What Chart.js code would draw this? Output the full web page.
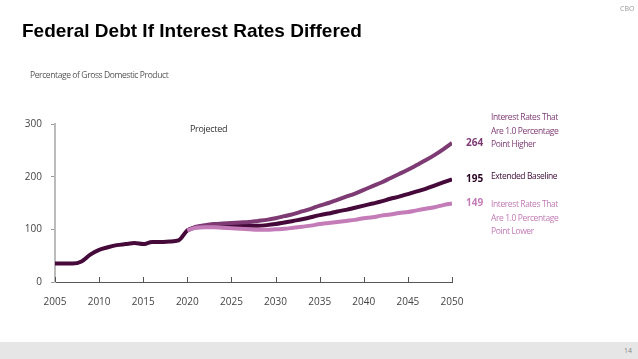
<!DOCTYPE html>
<html><head><meta charset="utf-8">
<script src="https://cdn.jsdelivr.net/npm/chart.js@4"></script>
<style>
html,body{margin:0;padding:0;background:#fff;}
#wrap{position:relative;width:638px;height:359px;overflow:hidden;font-family:"Open Sans","DejaVu Sans",sans-serif;}
canvas{position:absolute;left:0;top:0;}
.t{position:absolute;white-space:nowrap;}
#title{left:22px;top:20px;font-family:"Liberation Sans",Arial,sans-serif;font-weight:bold;font-size:19px;color:#000;}
#cbo{left:620px;top:4px;font-size:7px;color:#999;}
#sub{left:30px;top:69px;font-size:8.5px;color:#555;letter-spacing:-0.4px;}
#foot{position:absolute;left:0;top:342px;width:638px;height:17px;background:#e6e6e6;}
#pg{left:624px;top:346px;font-size:7px;color:#888;}
.lg{position:absolute;left:491px;font-size:8.5px;line-height:13.5px;letter-spacing:-0.4px;}
#proj{left:190px;top:122px;font-size:9px;color:#333;letter-spacing:-0.3px;}
</style></head>
<body><div id="wrap">
<canvas id="c" width="638" height="359"></canvas>
<div class="t" id="title">Federal Debt If Interest Rates Differed</div>
<div class="t" id="cbo">CBO</div>
<div class="t" id="sub">Percentage of Gross Domestic Product</div>
<div class="t" id="proj">Projected</div>
<div class="lg" style="top:110px;color:#7d3a73">Interest Rates That<br>Are 1.0 Percentage<br>Point Higher</div>
<div class="lg" style="top:169px;color:#3d0a33">Extended Baseline</div>
<div class="lg" style="top:197px;color:#c07ab4">Interest Rates That<br>Are 1.0 Percentage<br>Point Lower</div>
<div id="foot"></div>
<div class="t" id="pg">14</div>
</div>
<script>
const years = [];
for (let y = 2005; y <= 2050; y++) years.push(y);
const baseline = [35,35,35,39,52,61,66,70,72,74,72,76,76,77,79,98,104,106,107,107,107,107,107,107,108,110,113,116,119,123,127,130,134,137,141,145,149,153,158,162,167,172,177,183,189,195];
const higherYears = [2020,2021,2022,2023,2024,2025,2026,2027,2028,2029,2030,2031,2032,2033,2034,2035,2036,2037,2038,2039,2040,2041,2042,2043,2044,2045,2046,2047,2048,2049,2050];
const higher = [98,105,108,110,111,112,113,114,116,118,121,125,129,134,139,145,150,156,162,168,175,182,189,197,205,213,222,231,241,252,264];
const lower = [98,103,104,104,103,102,101,100,99,99,100,101,103,105,107,110,112,114,116,118,121,123,126,128,131,133,136,139,142,146,149];
const yTicks = [0,100,200,300];
const xTicks = [2005,2010,2015,2020,2025,2030,2035,2040,2045,2050];

const COL_HI = '#7d3a73', COL_BASE = '#45093a', COL_LO = '#c47cb8';
const toPts = (xs, vs) => xs.map((x, i) => ({x: x, y: vs[i]}));

const endLabels = {
  id: 'endLabels',
  afterDatasetsDraw(chart) {
    const ctx = chart.ctx;
    const xs = chart.scales.x, ys = chart.scales.y;
    ctx.save();
    ctx.strokeStyle = '#555'; ctx.lineWidth = 1;
    xTicks.forEach(v => {
      const px = Math.round(xs.getPixelForValue(v)) + 0.5;
      ctx.beginPath(); ctx.moveTo(px, ys.bottom); ctx.lineTo(px, ys.bottom - 5); ctx.stroke();
    });
    ctx.font = 'bold 10px "Open Sans", sans-serif';
    ctx.textBaseline = 'middle';
    chart.data.datasets.forEach(ds => {
      const last = ds.data[ds.data.length - 1];
      ctx.fillStyle = ds.labelColor;
      ctx.fillText(String(last.y), xs.getPixelForValue(last.x) + 14, ys.getPixelForValue(last.y));
    });
    ctx.restore();
  }
};

new Chart(document.getElementById('c'), {
  type: 'line',
  data: {
    datasets: [
      {label: 'Lower', data: toPts(higherYears, lower), borderColor: COL_LO, labelColor: COL_LO, borderWidth: 4, pointRadius: 0, cubicInterpolationMode: 'monotone'},
      {label: 'Higher', data: toPts(higherYears, higher), borderColor: COL_HI, labelColor: COL_HI, borderWidth: 4, pointRadius: 0, cubicInterpolationMode: 'monotone'},
      {label: 'Baseline', data: toPts(years, baseline), borderColor: COL_BASE, labelColor: '#2a0422', borderWidth: 4, pointRadius: 0, cubicInterpolationMode: 'monotone'}
    ]
  },
  options: {
    responsive: false, animation: false,
    layout: {padding: {left: 0, top: 124, right: 186, bottom: 52}},
    plugins: {legend: {display: false}, tooltip: {enabled: false}},
    scales: {
      x: {
        type: 'linear', min: 2005, max: 2050,
        afterFit: s => { s.height = 25; },
        afterBuildTicks: s => { s.ticks = xTicks.map(v => ({value: v})); },
        grid: {display: false, drawOnChartArea: false},
        border: {display: true, color: '#555', width: 1},
        ticks: {color: '#444', font: {size: 10, family: '"Open Sans", sans-serif'}, padding: 6, maxRotation: 0, callback: v => String(v)}
      },
      y: {
        min: 0, max: 300,
        afterFit: s => { s.width = 55; },
        afterBuildTicks: s => { s.ticks = yTicks.map(v => ({value: v})); },
        grid: {drawOnChartArea: false, drawTicks: true, tickLength: 4, color: '#999'},
        border: {display: true, color: '#bbb', width: 2},
        ticks: {color: '#444', font: {size: 10, family: '"Open Sans", sans-serif'}, padding: 9}
      }
    }
  },
  plugins: [endLabels]
});
</script>
</body></html>
